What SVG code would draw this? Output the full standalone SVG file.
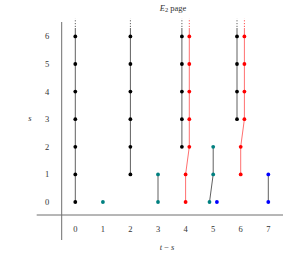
<svg xmlns="http://www.w3.org/2000/svg" width="285" height="254" viewBox="0 0 285 254">
<style>
.ax{stroke:#6e6e6e;stroke-width:1;fill:none}
.e{stroke:#606060;stroke-width:1;fill:none}
.r{stroke:#ff7070;stroke-width:1;fill:none}
.ed{stroke:#606060;stroke-width:1;stroke-dasharray:1.2 1.6;fill:none}
.rd{stroke:#ff5050;stroke-width:1;stroke-dasharray:1.2 1.6;fill:none}
.k{fill:#000}
.red{fill:#ff0000}
.t{fill:#008080}
.b{fill:#0000ff}
text{font-family:"Liberation Serif","DejaVu Serif",serif;font-size:8.5px;fill:#333;text-anchor:middle}
</style>
<rect width="285" height="254" fill="#fff"/>
<text x="173" y="10.5" font-size="10"><tspan font-style="italic">E</tspan><tspan font-size="6.5" dy="1.8">2</tspan><tspan dy="-1.8"> page</tspan></text>
<g id="axes">
<line class="ax" x1="61.7" y1="22" x2="61.7" y2="240"/>
<line class="ax" x1="36.7" y1="215" x2="283" y2="215"/>
<text x="47" y="205">0</text><text x="47" y="177.4">1</text><text x="47" y="149.8">2</text><text x="47" y="122.2">3</text><text x="47" y="94.6">4</text><text x="47" y="67">5</text><text x="47" y="39.4">6</text>
<text x="75.3" y="232">0</text><text x="102.9" y="232">1</text><text x="130.4" y="232">2</text><text x="158" y="232">3</text><text x="185.6" y="232">4</text><text x="213.2" y="232">5</text><text x="240.7" y="232">6</text><text x="268.3" y="232">7</text>
<text x="30" y="121" font-style="italic">s</text>
<text x="167" y="250"><tspan font-style="italic">t</tspan> − <tspan font-style="italic">s</tspan></text>
</g>
<g id="connectors">
<line class="e" x1="75.3" y1="202" x2="75.3" y2="28"/><line class="ed" x1="75.3" y1="27" x2="75.3" y2="18.5"/>
<line class="e" x1="130.4" y1="174.4" x2="130.4" y2="28"/><line class="ed" x1="130.4" y1="27" x2="130.4" y2="18.5"/>
<line class="e" x1="158" y1="202" x2="158" y2="174.4"/>
<line class="e" x1="181.9" y1="146.8" x2="181.9" y2="28"/><line class="ed" x1="181.9" y1="27" x2="181.9" y2="18.5"/>
<polyline class="r" points="185.6,202 185.6,174.4 189.3,146.8 189.3,28"/><line class="rd" x1="189.3" y1="27" x2="189.3" y2="18.5"/>
<polyline class="e" points="209.5,202 213.2,174.4 213.2,146.8"/>
<line class="e" x1="237" y1="119.2" x2="237" y2="28"/><line class="ed" x1="237" y1="27" x2="237" y2="18.5"/>
<polyline class="r" points="240.7,174.4 240.7,146.8 244.4,119.2 244.4,28"/><line class="rd" x1="244.4" y1="27" x2="244.4" y2="18.5"/>
<line class="e" x1="268.3" y1="202" x2="268.3" y2="174.4"/>
</g>
<g id="c0" class="k">
<g id="n0_0"><circle cx="75.3" cy="202" r="1.9"/></g>
<g id="n0_1"><circle cx="75.3" cy="174.4" r="1.9"/></g>
<g id="n0_2"><circle cx="75.3" cy="146.8" r="1.9"/></g>
<g id="n0_3"><circle cx="75.3" cy="119.2" r="1.9"/></g>
<g id="n0_4"><circle cx="75.3" cy="91.6" r="1.9"/></g>
<g id="n0_5"><circle cx="75.3" cy="64" r="1.9"/></g>
<g id="n0_6"><circle cx="75.3" cy="36.4" r="1.9"/></g>
</g>
<g id="c1" class="t">
<g id="n1_0"><circle cx="102.9" cy="202" r="1.9"/></g>
</g>
<g id="c2" class="k">
<g id="n2_1"><circle cx="130.4" cy="174.4" r="1.9"/></g>
<g id="n2_2"><circle cx="130.4" cy="146.8" r="1.9"/></g>
<g id="n2_3"><circle cx="130.4" cy="119.2" r="1.9"/></g>
<g id="n2_4"><circle cx="130.4" cy="91.6" r="1.9"/></g>
<g id="n2_5"><circle cx="130.4" cy="64" r="1.9"/></g>
<g id="n2_6"><circle cx="130.4" cy="36.4" r="1.9"/></g>
</g>
<g id="c3" class="t">
<g id="n3_0"><circle cx="158" cy="202" r="1.9"/></g>
<g id="n3_1"><circle cx="158" cy="174.4" r="1.9"/></g>
</g>
<g id="c4k" class="k">
<g id="n4k_2"><circle cx="181.9" cy="146.8" r="1.9"/></g>
<g id="n4k_3"><circle cx="181.9" cy="119.2" r="1.9"/></g>
<g id="n4k_4"><circle cx="181.9" cy="91.6" r="1.9"/></g>
<g id="n4k_5"><circle cx="181.9" cy="64" r="1.9"/></g>
<g id="n4k_6"><circle cx="181.9" cy="36.4" r="1.9"/></g>
</g>
<g id="c4r" class="red">
<g id="n4r_0"><circle cx="185.6" cy="202" r="1.9"/></g>
<g id="n4r_1"><circle cx="185.6" cy="174.4" r="1.9"/></g>
<g id="n4r_2"><circle cx="189.3" cy="146.8" r="1.9"/></g>
<g id="n4r_3"><circle cx="189.3" cy="119.2" r="1.9"/></g>
<g id="n4r_4"><circle cx="189.3" cy="91.6" r="1.9"/></g>
<g id="n4r_5"><circle cx="189.3" cy="64" r="1.9"/></g>
<g id="n4r_6"><circle cx="189.3" cy="36.4" r="1.9"/></g>
</g>
<g id="c5">
<g id="n5t_0" class="t"><circle cx="209.5" cy="202" r="1.9"/></g>
<g id="n5b_0" class="b"><circle cx="216.9" cy="202" r="1.9"/></g>
<g id="n5t_1" class="t"><circle cx="213.2" cy="174.4" r="1.9"/></g>
<g id="n5t_2" class="t"><circle cx="213.2" cy="146.8" r="1.9"/></g>
</g>
<g id="c6k" class="k">
<g id="n6k_3"><circle cx="237" cy="119.2" r="1.9"/></g>
<g id="n6k_4"><circle cx="237" cy="91.6" r="1.9"/></g>
<g id="n6k_5"><circle cx="237" cy="64" r="1.9"/></g>
<g id="n6k_6"><circle cx="237" cy="36.4" r="1.9"/></g>
</g>
<g id="c6r" class="red">
<g id="n6r_1"><circle cx="240.7" cy="174.4" r="1.9"/></g>
<g id="n6r_2"><circle cx="240.7" cy="146.8" r="1.9"/></g>
<g id="n6r_3"><circle cx="244.4" cy="119.2" r="1.9"/></g>
<g id="n6r_4"><circle cx="244.4" cy="91.6" r="1.9"/></g>
<g id="n6r_5"><circle cx="244.4" cy="64" r="1.9"/></g>
<g id="n6r_6"><circle cx="244.4" cy="36.4" r="1.9"/></g>
</g>
<g id="c7" class="b">
<g id="n7_0"><circle cx="268.3" cy="202" r="1.9"/></g>
<g id="n7_1"><circle cx="268.3" cy="174.4" r="1.9"/></g>
</g>
</svg>
